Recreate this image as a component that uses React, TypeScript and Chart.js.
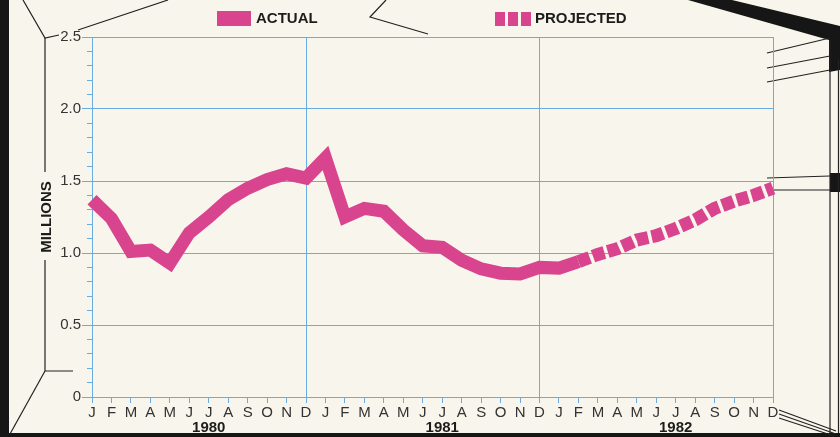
import React, { useEffect, useRef } from 'react';
import { Chart, registerables } from 'chart.js';

Chart.register(...registerables);

// ---- data ----
const MONTHS = ['J', 'F', 'M', 'A', 'M', 'J', 'J', 'A', 'S', 'O', 'N', 'D'];
const YEARS = ['1980', '1981', '1982'];
// Jan 1980 .. Feb 1982
const ACTUAL = [
  1.37, 1.24, 1.01, 1.02, 0.93, 1.14, 1.25, 1.37, 1.45, 1.51, 1.55, 1.52,
  1.66, 1.25, 1.31, 1.29, 1.16, 1.05, 1.04, 0.95, 0.89, 0.86, 0.855, 0.9,
  0.895, 0.94,
];
// Feb 1982 .. Dec 1982
const PROJECTED = [0.94, 0.99, 1.03, 1.09, 1.12, 1.17, 1.23, 1.31, 1.36, 1.4, 1.45];
const Y_MIN = 0;
const Y_MAX = 2.5;
const Y_MAJOR_STEP = 0.5;
const Y_MINOR_STEP = 0.1;
const V_GRID_INDEXES = [0, 11, 23, 35];
const LEGEND_LABELS = ['ACTUAL', 'PROJECTED'];
const Y_TITLE = 'MILLIONS';

// ---- styles ----
const PINK = '#d8448e';
const BLUE = '#69ade0';
const BG = '#f8f6ec';
const INK = '#1c1c1c';
const LABEL = '#333333';
const FONT = '"Liberation Sans", Arial, Helvetica, sans-serif';

const monthLabels = YEARS.flatMap(() => MONTHS);
const yearLabels = YEARS.flatMap((y) => MONTHS.map((_, i) => (i === 6 ? y : '')));
const total = monthLabels.length;
const actualData = [...ACTUAL, ...Array(total - ACTUAL.length).fill(null)];
const projectedData = [...Array(total - PROJECTED.length).fill(null), ...PROJECTED];

const decorPlugin = {
  id: 'decor',
  beforeDraw(chart: any) {
    const { ctx, width, height } = chart;
    ctx.save();
    ctx.fillStyle = BG;
    ctx.fillRect(0, 0, width, height);

    ctx.fillStyle = '#161616';
    ctx.fillRect(0, 0, 9, height);
    ctx.fillRect(0, height - 4, width, 4);
    ctx.beginPath();
    ctx.moveTo(688, 0);
    ctx.lineTo(732, 0);
    ctx.lineTo(840, 26);
    ctx.lineTo(840, 70);
    ctx.lineTo(829, 72);
    ctx.lineTo(829, 40);
    ctx.closePath();
    ctx.fill();
    ctx.fillRect(830, 173, 10, 19);

    ctx.strokeStyle = '#222';
    ctx.lineWidth = 1.2;
    const line = (pts: number[][]) => {
      ctx.beginPath();
      ctx.moveTo(pts[0][0], pts[0][1]);
      for (let i = 1; i < pts.length; i++) ctx.lineTo(pts[i][0], pts[i][1]);
      ctx.stroke();
    };
    line([[23, 0], [45, 38], [59, 35]]);
    line([[45, 38], [45, 172]]);
    line([[45, 260], [45, 371], [73, 371]]);
    line([[45, 371], [10, 434]]);
    line([[78, 30], [168, 0]]);
    line([[386, 0], [370, 17], [428, 34]]);
    line([[767, 53], [830, 38]]);
    line([[767, 68], [830, 56]]);
    line([[767, 82], [830, 70]]);
    line([[767, 178], [830, 176]]);
    line([[772, 190], [830, 190]]);
    line([[830, 40], [830, 433]]);
    line([[838.5, 60], [838.5, 433]]);
    line([[779, 410], [836, 431]]);
    line([[779, 414], [836, 434]]);
    line([[779, 418], [834, 436]]);
    ctx.restore();
  },
  afterDraw(chart: any) {
    const { ctx } = chart;
    ctx.save();
    ctx.fillStyle = PINK;
    ctx.fillRect(217, 11, 34, 15);
    for (let i = 0; i < 3; i++) ctx.fillRect(495 + i * 13, 12, 10, 14);
    ctx.fillStyle = INK;
    ctx.font = `bold 15px ${FONT}`;
    ctx.textBaseline = 'middle';
    ctx.textAlign = 'left';
    ctx.fillText(LEGEND_LABELS[0], 256, 19);
    ctx.fillText(LEGEND_LABELS[1], 535, 19);
    ctx.restore();
  },
};

export default function App() {
  const ref = useRef<HTMLCanvasElement>(null);

  useEffect(() => {
    if (!ref.current) return;
    const chart = new Chart(ref.current, {
      type: 'line',
      data: {
        labels: monthLabels,
        datasets: [
          {
            label: LEGEND_LABELS[0],
            data: actualData,
            borderColor: PINK,
            borderWidth: 13,
            pointRadius: 0,
            tension: 0,
            fill: false,
            spanGaps: false,
            borderCapStyle: 'butt',
            borderJoinStyle: 'miter',
          },
          {
            label: LEGEND_LABELS[1],
            data: projectedData,
            borderColor: PINK,
            borderWidth: 13,
            borderDash: [12, 3.5],
            pointRadius: 0,
            tension: 0,
            fill: false,
            spanGaps: false,
            borderCapStyle: 'butt',
          },
        ],
      },
      options: {
        responsive: false,
        animation: false,
        devicePixelRatio: 1,
        layout: { padding: { top: 37, right: 67, left: 0, bottom: 0 } },
        plugins: { legend: { display: false }, tooltip: { enabled: false } },
        scales: {
          x: {
            type: 'category',
            position: 'bottom',
            weight: 0,
            grid: {
              color: (c: any) => (V_GRID_INDEXES.includes(c.index) ? BLUE : 'rgba(0,0,0,0)'),
              lineWidth: 1,
              tickColor: BLUE,
              tickLength: 6,
              drawTicks: true,
            },
            border: { display: true, color: BLUE, width: 1 },
            ticks: {
              autoSkip: false,
              maxRotation: 0,
              padding: 1,
              color: LABEL,
              font: { family: FONT, size: 15 },
            },
            afterFit: (s: any) => {
              s.height = 22;
            },
          },
          xYear: {
            type: 'category',
            position: 'bottom',
            weight: 1,
            labels: yearLabels,
            grid: { display: false, drawTicks: false },
            border: { display: false },
            ticks: {
              autoSkip: false,
              maxRotation: 0,
              padding: 0,
              color: INK,
              font: { family: FONT, size: 15, weight: 'bold' },
            },
            afterFit: (s: any) => {
              s.height = 18;
            },
          },
          y: {
            type: 'linear',
            position: 'left',
            weight: 1,
            min: Y_MIN,
            max: Y_MAX,
            grid: {
              color: BLUE,
              lineWidth: 1,
              tickColor: BLUE,
              tickLength: 10,
            },
            border: { display: true, color: BLUE, width: 1 },
            ticks: {
              stepSize: Y_MAJOR_STEP,
              padding: 1,
              color: LABEL,
              font: { family: FONT, size: 15 },
              callback: (v: any) => (Number(v) === 0 ? '0' : Number(v).toFixed(1)),
            },
            title: {
              display: true,
              text: Y_TITLE,
              color: INK,
              font: { family: FONT, size: 15, weight: 'bold' },
              padding: { top: 38, bottom: 0 },
            },
            afterFit: (s: any) => {
              s.width = 92;
            },
          },
          yMinor: {
            type: 'linear',
            position: 'left',
            weight: 0,
            min: Y_MIN,
            max: Y_MAX,
            grid: {
              drawOnChartArea: false,
              tickColor: BLUE,
              tickLength: 5,
            },
            border: { display: false },
            ticks: { stepSize: Y_MINOR_STEP, display: false },
            afterFit: (s: any) => {
              s.width = 0;
            },
          },
        },
      },
      plugins: [decorPlugin],
    } as any);
    return () => chart.destroy();
  }, []);

  return (
    <div style={{ position: 'fixed', left: 0, top: 0, width: 840, height: 437, background: BG }}>
      <canvas ref={ref} width={840} height={437} style={{ display: 'block' }} />
    </div>
  );
}
